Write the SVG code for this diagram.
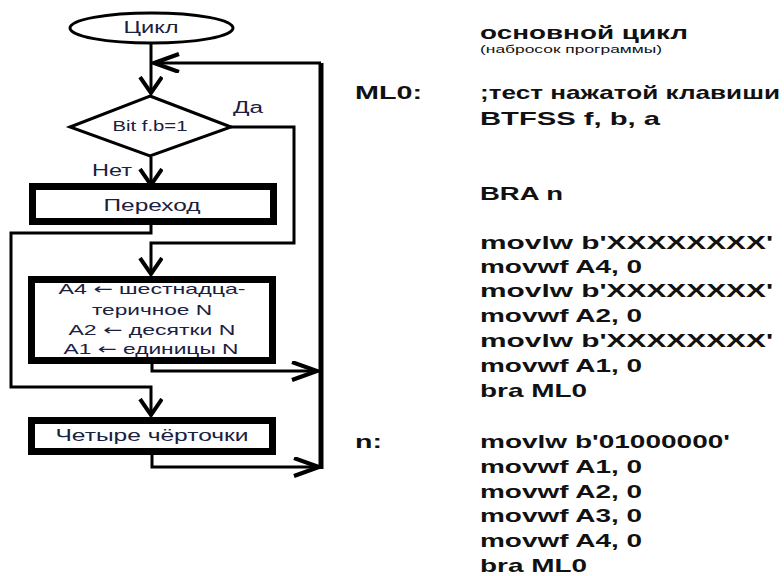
<svg xmlns="http://www.w3.org/2000/svg" width="784" height="576" viewBox="0 0 784 576">
<defs>
<style>
.ln{fill:none;stroke:#000;stroke-width:3;stroke-linejoin:miter}
.thick{fill:none;stroke:#000;stroke-width:5}
.box{fill:#fff;stroke:#000;stroke-width:7}
.shape{fill:#fff;stroke:#000;stroke-width:3}
.ft{font-family:"Liberation Sans",Arial,sans-serif;fill:#1a2040;text-anchor:middle}
.ar{font-family:"DejaVu Sans",sans-serif}
.code{font-family:"Liberation Sans",Arial,sans-serif;fill:#111;font-weight:bold;font-size:19px}
</style>
<marker id="av" markerUnits="userSpaceOnUse" markerWidth="24" markerHeight="28" refX="17" refY="12" orient="auto" viewBox="0 0 24 28">
<polyline points="1,1 17,12 1,23" fill="none" stroke="#000" stroke-width="4"/>
</marker>
<marker id="ah" markerUnits="userSpaceOnUse" markerWidth="30" markerHeight="24" refX="26" refY="10" orient="auto" viewBox="0 0 30 24">
<polyline points="1,1 26,10 1,19" fill="none" stroke="#000" stroke-width="4"/>
</marker>
</defs>
<rect width="784" height="576" fill="#fff"/>

<g id="connectors">
<line class="ln" x1="151" y1="43" x2="151" y2="93" marker-end="url(#av)"/>
<line class="thick" x1="321" y1="63" x2="321" y2="469"/>
<line class="ln" x1="321" y1="63" x2="154" y2="63" marker-end="url(#ah)"/>
<polyline class="ln" points="231,127 294,127 294,243 151,243 151,274" stroke-width="4" marker-end="url(#av)"/>
<line class="ln" x1="151" y1="157" x2="151" y2="185" marker-end="url(#av)"/>
<polyline class="ln" points="151,225 151,233 11,233 11,387 151,387 151,415" marker-end="url(#av)"/>
<polyline class="ln" points="152,364 152,371 317,371" marker-end="url(#ah)"/>
<polyline class="ln" points="152,455 152,467 319,467" marker-end="url(#ah)"/>
</g>

<g id="start">
<ellipse class="shape" cx="151.5" cy="28" rx="81.5" ry="15" stroke-width="2"/>
<text class="ft" x="151" y="33" font-size="16" textLength="55" lengthAdjust="spacingAndGlyphs">Цикл</text>
</g>

<g id="decision">
<polygon class="shape" points="150,96 231,127 150,156 70,127"/>
<text class="ft" x="150" y="131" font-size="14" textLength="75" lengthAdjust="spacingAndGlyphs">Bit f.b=1</text>
<text class="ft" x="248" y="113" font-size="16" textLength="30" lengthAdjust="spacingAndGlyphs">Да</text>
<text class="ft" x="112" y="176" font-size="16" textLength="40" lengthAdjust="spacingAndGlyphs">Нет</text>
</g>

<g id="jump">
<rect class="box" x="32.5" y="186.5" width="241" height="35"/>
<text class="ft" x="152" y="211" font-size="16" textLength="97" lengthAdjust="spacingAndGlyphs">Переход</text>
</g>

<g id="assign">
<rect class="box" x="31.5" y="279.5" width="241" height="81"/>
<text class="ft" x="152" y="294" font-size="15" textLength="187" lengthAdjust="spacingAndGlyphs">A4 <tspan class="ar">←</tspan> шестнадца-</text>
<text class="ft" x="152" y="315" font-size="15" textLength="120" lengthAdjust="spacingAndGlyphs">теричное N</text>
<text class="ft" x="152" y="335" font-size="15" textLength="167" lengthAdjust="spacingAndGlyphs">A2 <tspan class="ar">←</tspan> десятки N</text>
<text class="ft" x="151" y="354" font-size="15" textLength="175" lengthAdjust="spacingAndGlyphs">A1 <tspan class="ar">←</tspan> единицы N</text>
</g>

<g id="dashes">
<rect class="box" x="31.5" y="420.5" width="241" height="31"/>
<text class="ft" x="152" y="441" font-size="16" textLength="193" lengthAdjust="spacingAndGlyphs">Четыре чёрточки</text>
</g>

<g id="code">
<text class="code" x="480" y="39" font-size="21" textLength="208" lengthAdjust="spacingAndGlyphs">основной  цикл</text>
<text x="480" y="53" font-family="Liberation Sans,Arial,sans-serif" font-size="10" fill="#111" textLength="182" lengthAdjust="spacingAndGlyphs">(набросок программы)</text>
<text class="code" x="355" y="99" textLength="67" lengthAdjust="spacingAndGlyphs">ML0:</text>
<text class="code" x="480" y="99" textLength="300" lengthAdjust="spacingAndGlyphs">;тест нажатой клавиши</text>
<text class="code" x="480" y="125" textLength="180" lengthAdjust="spacingAndGlyphs">BTFSS  f, b, a</text>
<text class="code" x="480" y="200" textLength="83" lengthAdjust="spacingAndGlyphs">BRA n</text>
<text class="code" x="480" y="249" textLength="293" lengthAdjust="spacingAndGlyphs">movlw b'XXXXXXXX'</text>
<text class="code" x="480" y="273" textLength="162" lengthAdjust="spacingAndGlyphs">movwf A4, 0</text>
<text class="code" x="480" y="297" textLength="293" lengthAdjust="spacingAndGlyphs">movlw b'XXXXXXXX'</text>
<text class="code" x="480" y="322" textLength="162" lengthAdjust="spacingAndGlyphs">movwf A2, 0</text>
<text class="code" x="480" y="347" textLength="293" lengthAdjust="spacingAndGlyphs">movlw b'XXXXXXXX'</text>
<text class="code" x="480" y="372" textLength="162" lengthAdjust="spacingAndGlyphs">movwf A1, 0</text>
<text class="code" x="480" y="397" textLength="107" lengthAdjust="spacingAndGlyphs">bra ML0</text>
<text class="code" x="355" y="448" textLength="27" lengthAdjust="spacingAndGlyphs">n:</text>
<text class="code" x="480" y="448" textLength="250" lengthAdjust="spacingAndGlyphs">movlw b'01000000'</text>
<text class="code" x="480" y="473" textLength="162" lengthAdjust="spacingAndGlyphs">movwf A1, 0</text>
<text class="code" x="480" y="498" textLength="162" lengthAdjust="spacingAndGlyphs">movwf A2, 0</text>
<text class="code" x="480" y="522" textLength="162" lengthAdjust="spacingAndGlyphs">movwf A3, 0</text>
<text class="code" x="480" y="547" textLength="162" lengthAdjust="spacingAndGlyphs">movwf A4, 0</text>
<text class="code" x="480" y="572" textLength="107" lengthAdjust="spacingAndGlyphs">bra ML0</text>
</g>
</svg>
